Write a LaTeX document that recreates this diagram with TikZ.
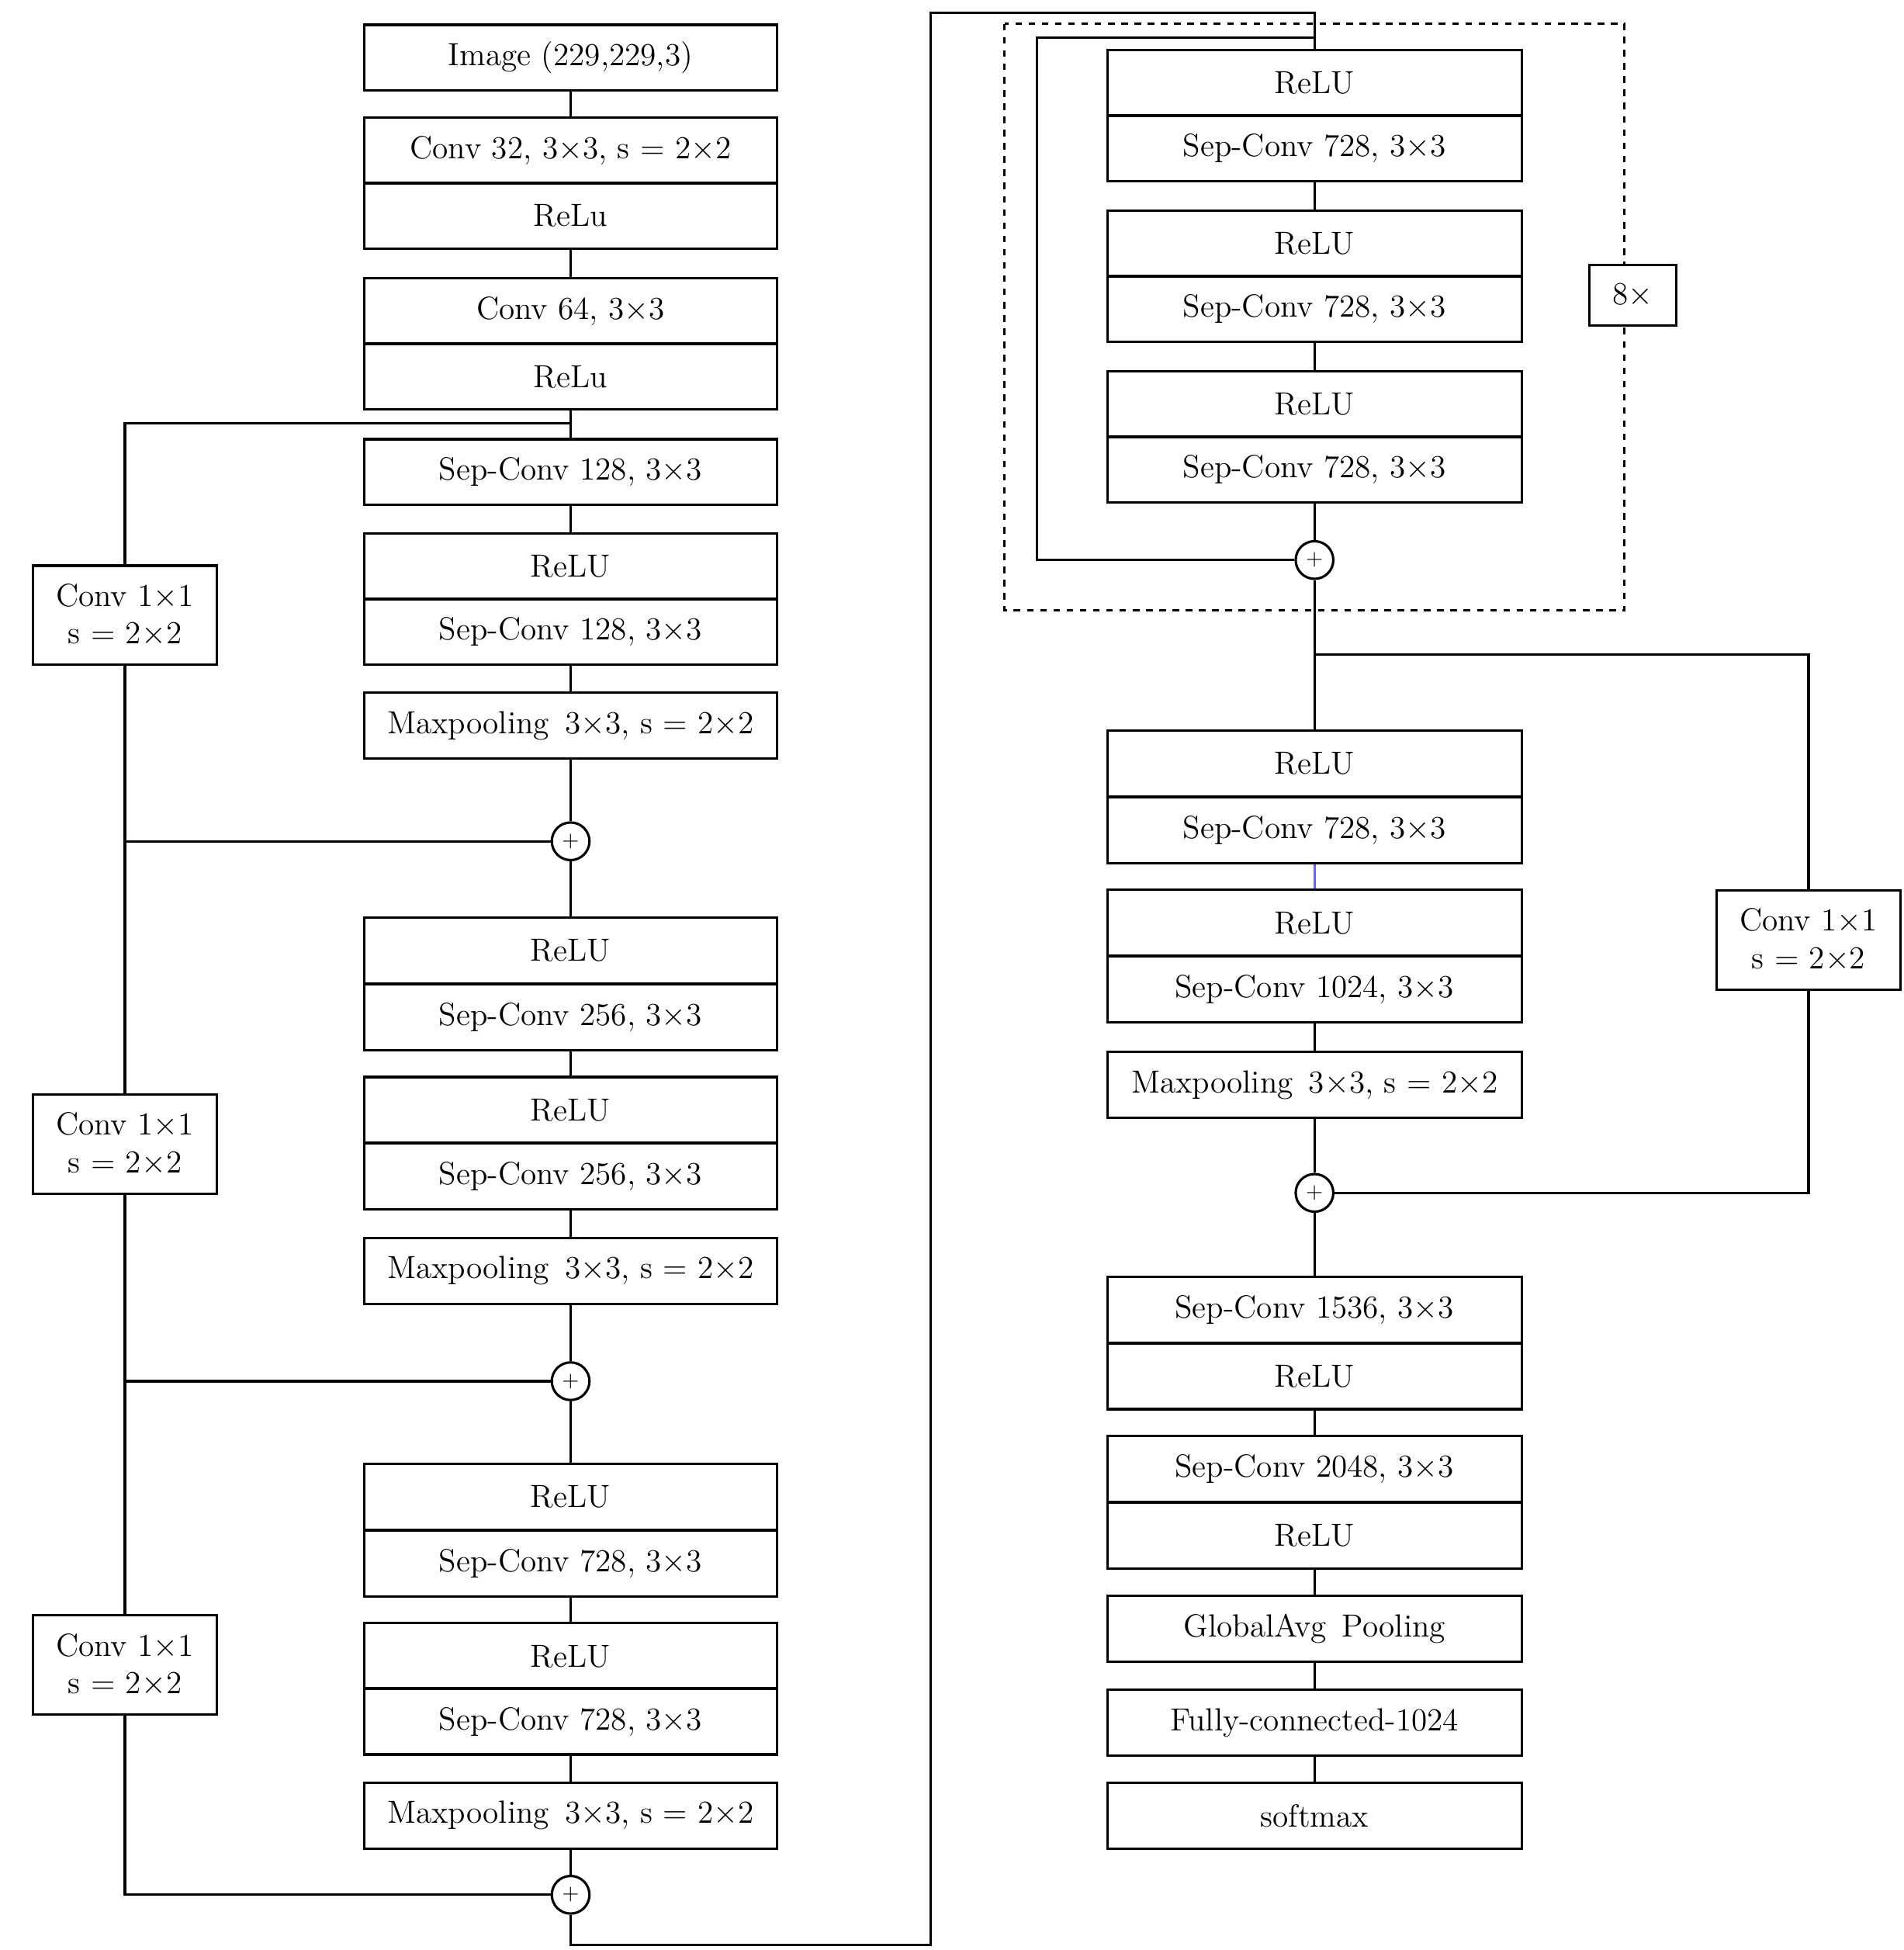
\documentclass[tikz,border=0pt]{standalone}
\usepackage{amsmath}
\begin{document}
\begin{tikzpicture}[x=0.02cm,y=-0.02cm,line width=1.1pt,
  every node/.style={font=\fontsize{14.5}{17}\selectfont},
  bl/.style={draw,minimum width=6.58cm,minimum height=1.05cm,inner sep=0pt},
  br/.style={draw,minimum width=6.6cm,minimum height=1.05cm,inner sep=0pt},
  sk/.style={draw,minimum width=2.94cm,minimum height=1.58cm,inner sep=0pt,align=center},
  pl/.style={draw,circle,minimum size=0.6cm,inner sep=0pt,font=\fontsize{10}{10}\selectfont}]
\useasboundingbox (0,0) rectangle (1516,1553);
% left column
\node[bl] (img) at (454.5,46) {Image (229,229,3)};
\node[bl] (c32) at (454.5,120) {Conv 32, 3$\times$3, s = 2$\times$2};
\node[bl] (r1) at (454.5,172) {ReLu};
\node[bl] (c64) at (454.5,248) {Conv 64, 3$\times$3};
\node[bl] (r2) at (454.5,300) {ReLu};
\node[bl] (s128a) at (454.5,376) {Sep-Conv 128, 3$\times$3};
\node[bl] (r3) at (454.5,451) {ReLU};
\node[bl] (s128b) at (454.5,503) {Sep-Conv 128, 3$\times$3};
\node[bl] (mp1) at (454.5,578) {Maxpooling\, 3$\times$3, s = 2$\times$2};
\node[pl] (p1) at (454.5,670) {+};
\node[bl] (r4) at (454.5,757) {ReLU};
\node[bl] (s256a) at (454.5,810) {Sep-Conv 256, 3$\times$3};
\node[bl] (r5) at (454.5,884) {ReLU};
\node[bl] (s256b) at (454.5,937) {Sep-Conv 256, 3$\times$3};
\node[bl] (mp2) at (454.5,1012) {Maxpooling\, 3$\times$3, s = 2$\times$2};
\node[pl] (p2) at (454.5,1100) {+};
\node[bl] (r6) at (454.5,1192) {ReLU};
\node[bl] (s728a) at (454.5,1245) {Sep-Conv 728, 3$\times$3};
\node[bl] (r7) at (454.5,1319) {ReLU};
\node[bl] (s728b) at (454.5,1371) {Sep-Conv 728, 3$\times$3};
\node[bl] (mp3) at (454.5,1446) {Maxpooling\, 3$\times$3, s = 2$\times$2};
\node[pl] (p3) at (454.5,1509) {+};
\foreach \a/\b in {img/c32,r1/c64,r2/s128a,s128a/r3,s128b/mp1,mp1/p1,p1/r4,s256a/r5,s256b/mp2,mp2/p2,p2/r6,s728a/r7,s728b/mp3,mp3/p3}
  \draw (\a.south) -- (\b.north);
% left skip
\node[sk] (k1) at (99.5,490) {Conv 1$\times$1\\s = 2$\times$2};
\node[sk] (k2) at (99.5,911) {Conv 1$\times$1\\s = 2$\times$2};
\node[sk] (k3) at (99.5,1326) {Conv 1$\times$1\\s = 2$\times$2};
\coordinate (s1) at (454.5,337);
\coordinate (j1) at (99.5,670);
\coordinate (j2) at (99.5,1100);
\draw (s1) -| (k1.north);
\draw (k1.south) |- (p1.west);
\draw (j1) -- (k2.north);
\draw (k2.south) |- (p2.west);
\draw (j2) -- (k3.north);
\draw (k3.south) |- (p3.west);
% right column
\node[br] (R1) at (1047,66) {ReLU};
\node[br] (S1) at (1047,118) {Sep-Conv 728, 3$\times$3};
\node[br] (R2) at (1047,194) {ReLU};
\node[br] (S2) at (1047,246) {Sep-Conv 728, 3$\times$3};
\node[br] (R3) at (1047,322) {ReLU};
\node[br] (S3) at (1047,374) {Sep-Conv 728, 3$\times$3};
\node[pl] (q1) at (1047,446) {+};
\node[br] (R4) at (1047,608) {ReLU};
\node[br] (S4) at (1047,661) {Sep-Conv 728, 3$\times$3};
\node[br] (R5) at (1047,735) {ReLU};
\node[br] (S5) at (1047,788) {Sep-Conv 1024, 3$\times$3};
\node[br] (mp4) at (1047,864) {Maxpooling\, 3$\times$3, s = 2$\times$2};
\node[pl] (q2) at (1047,950) {+};
\node[br] (S6) at (1047,1043) {Sep-Conv 1536, 3$\times$3};
\node[br] (R6) at (1047,1096) {ReLU};
\node[br] (S7) at (1047,1170) {Sep-Conv 2048, 3$\times$3};
\node[br] (R7) at (1047,1223) {ReLU};
\node[br] (gap) at (1047,1297) {GlobalAvg\, Pooling};
\node[br] (fc) at (1047,1372) {Fully-connected-1024};
\node[br] (sm) at (1047,1446) {softmax};
\foreach \a/\b in {S1/R2,S2/R3,S3/q1,q1/R4,S5/mp4,mp4/q2,q2/S6,R6/S7,R7/gap,gap/fc,fc/sm}
  \draw (\a.south) -- (\b.north);
\draw[blue!60] (S4.south) -- (R5.north);
% long connector
\coordinate (b1) at (454.5,1549);
\coordinate (b2) at (741,1549);
\coordinate (b3) at (741,10);
\coordinate (b4) at (1047,10);
\draw (p3.south) -- (b1) -- (b2) -- (b3) -- (b4) -- (R1.north);
% inner loop
\coordinate (l1) at (1047,30);
\coordinate (l2) at (826,30);
\draw (l1) -- (l2) |- (q1.west);
% dashed box
\draw[dashed] (800,19) rectangle (1294,486);
\node[draw,minimum width=1.38cm,minimum height=0.96cm,inner sep=0pt,fill=white] (rep) at (1300.5,235) {8$\times$};
% right skip
\node[sk] (k4) at (1440.5,748.5) {Conv 1$\times$1\\s = 2$\times$2};
\coordinate (j4) at (1047,521);
\draw (j4) -| (k4.north);
\draw (k4.south) |- (q2.east);
\end{tikzpicture}
\end{document}
